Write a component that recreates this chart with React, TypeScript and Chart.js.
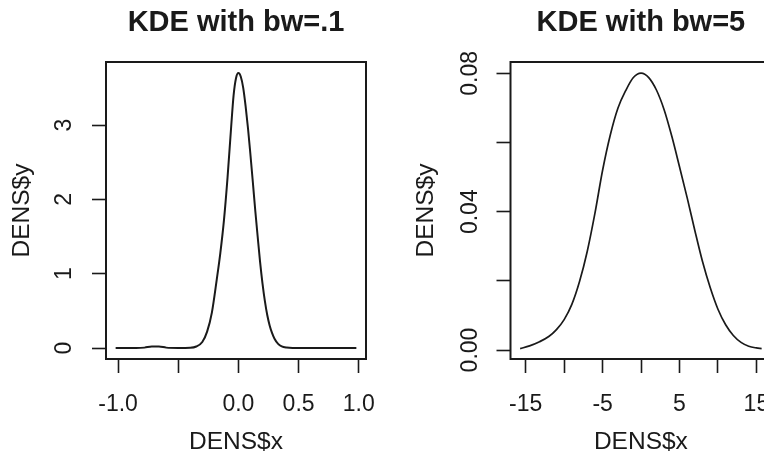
import React, { useEffect, useRef } from 'react';
import { Chart, registerables } from 'chart.js';

Chart.register(...registerables);

// ---- Data ----
const titles = ['KDE with bw=.1', 'KDE with bw=5'];
const xAxisTitle = 'DENS$x';
const yAxisTitle = 'DENS$y';

// Left panel: KDE with bw=.1
const leftX = [
  -1.02, -0.95, -0.85, -0.78, -0.72, -0.66, -0.6, -0.5, -0.4, -0.35, -0.3, -0.26, -0.22, -0.18,
  -0.15, -0.12, -0.09, -0.06, -0.04, -0.02, 0, 0.02, 0.04, 0.06, 0.08, 0.1, 0.12, 0.14, 0.16,
  0.18, 0.2, 0.22, 0.24, 0.26, 0.28, 0.3, 0.33, 0.36, 0.4, 0.45, 0.6, 0.8, 0.98,
];
const leftY = [
  0, 0, 0, 0.005, 0.02, 0.02, 0.005, 0, 0.003, 0.02, 0.08, 0.22, 0.48, 0.92,
  1.28, 1.72, 2.3, 2.98, 3.4, 3.63, 3.7, 3.65, 3.5, 3.25, 2.95, 2.6, 2.23, 1.85, 1.5,
  1.16, 0.87, 0.63, 0.44, 0.3, 0.2, 0.125, 0.055, 0.022, 0.006, 0, 0, 0, 0,
];
const leftXTicks = [-1, -0.5, 0, 0.5, 1];
const leftXLabels = ['-1.0', '', '0.0', '0.5', '1.0'];
const leftYTicks = [0, 1, 2, 3];
const leftYLabels = ['0', '1', '2', '3'];

// Right panel: KDE with bw=5
const rightX = [
  -15.72, -14.5, -13.2, -12, -11, -10, -9, -8, -7, -6, -5, -4, -3, -2, -1, 0, 1, 2, 3, 4, 5,
  6, 7, 8, 9, 10, 11, 12, 13, 14, 15, 15.68,
];
const rightY = [
  0.0004, 0.0012, 0.0024, 0.0039, 0.0059, 0.0088, 0.0132, 0.0198, 0.0285, 0.0395, 0.052, 0.0622,
  0.07, 0.075, 0.0788, 0.0801, 0.0788, 0.0752, 0.0695, 0.0618, 0.053, 0.044, 0.0345, 0.0255,
  0.018, 0.0118, 0.0073, 0.0042, 0.0022, 0.0011, 0.0006, 0.0004,
];
const rightXTicks = [-15, -10, -5, 0, 5, 10, 15];
const rightXLabels = ['-15', '', '-5', '', '5', '', '15'];
const rightYTicks = [0, 0.02, 0.04, 0.06, 0.08];
const rightYLabels = ['0.00', '', '0.04', '', '0.08'];

const FONT = '"Liberation Sans", Arial, Helvetica, sans-serif';
const INK = '#1a1a1a';
const TICK_SIZE = 23;
const AXIS_TITLE_SIZE = 24.5;

type Panel = {
  title: string;
  xs: number[];
  ys: number[];
  xMin: number;
  xMax: number;
  yMin: number;
  yMax: number;
  xTicks: number[];
  xLabels: string[];
  yTicks: number[];
  yLabels: string[];
  yAxisWidth: number;
  padRight: number;
  yTickPad: number;
  yTitlePad: number;
  lineWidth: number;
};

const frame = {
  id: 'rframe',
  afterDraw(chart: any, _args: any, opts: any) {
    const { ctx, chartArea: a } = chart;
    ctx.save();
    ctx.strokeStyle = INK;
    ctx.lineWidth = 2;
    ctx.strokeRect(a.left, a.top, a.right - a.left, a.bottom - a.top);
    ctx.font = `bold 29px ${FONT}`;
    ctx.fillStyle = INK;
    ctx.textAlign = 'center';
    ctx.textBaseline = 'alphabetic';
    ctx.fillText(opts.text, (a.left + a.right) / 2, 31);
    ctx.restore();
  },
};

function makeConfig(p: Panel): any {
  return {
    type: 'line',
    data: {
      datasets: [
        {
          data: p.xs.map((x, i) => ({ x, y: p.ys[i] })),
          borderColor: INK,
          borderWidth: p.lineWidth,
          pointRadius: 0,
          fill: false,
          cubicInterpolationMode: 'monotone',
        },
      ],
    },
    options: {
      responsive: false,
      animation: false,
      devicePixelRatio: 1,
      layout: { padding: { top: 62, left: 0, right: p.padRight, bottom: 0 } },
      plugins: {
        legend: { display: false },
        tooltip: { enabled: false },
        rframe: { text: p.title },
      },
      scales: {
        x: {
          type: 'linear',
          min: p.xMin,
          max: p.xMax,
          afterBuildTicks: (s: any) => {
            s.ticks = p.xTicks.map((v) => ({ value: v }));
          },
          afterFit: (s: any) => {
            s.height = 108;
            s.paddingLeft = 0;
            s.paddingRight = 0;
          },
          grid: {
            display: true,
            drawOnChartArea: false,
            drawTicks: true,
            tickLength: 14,
            tickColor: INK,
            tickWidth: 1.6,
          },
          border: { display: false },
          ticks: {
            autoSkip: false,
            maxRotation: 0,
            minRotation: 0,
            padding: 18.2,
            color: INK,
            font: { family: FONT, size: TICK_SIZE },
            callback: (v: number) => p.xLabels[p.xTicks.indexOf(v)] ?? '',
          },
          title: {
            display: true,
            text: xAxisTitle,
            color: INK,
            font: { family: FONT, size: AXIS_TITLE_SIZE },
            padding: { top: 0, bottom: 10.3 },
          },
        },
        y: {
          type: 'linear',
          min: p.yMin,
          max: p.yMax,
          afterBuildTicks: (s: any) => {
            s.ticks = p.yTicks.map((v) => ({ value: v }));
          },
          afterFit: (s: any) => {
            s.width = p.yAxisWidth;
            s.paddingTop = 0;
            s.paddingBottom = 0;
          },
          grid: {
            display: true,
            drawOnChartArea: false,
            drawTicks: true,
            tickLength: 14,
            tickColor: INK,
            tickWidth: 1.6,
          },
          border: { display: false },
          ticks: {
            autoSkip: false,
            minRotation: 90,
            maxRotation: 90,
            crossAlign: 'center',
            padding: p.yTickPad,
            color: INK,
            font: { family: FONT, size: TICK_SIZE },
            callback: (v: number) => p.yLabels[p.yTicks.indexOf(v)] ?? '',
          },
          title: {
            display: true,
            text: yAxisTitle,
            color: INK,
            font: { family: FONT, size: AXIS_TITLE_SIZE },
            padding: { top: p.yTitlePad, bottom: 0 },
          },
        },
      },
    },
    plugins: [frame],
  };
}

const leftPanel: Panel = {
  title: titles[0],
  xs: leftX,
  ys: leftY,
  xMin: -1.1,
  xMax: 1.06,
  yMin: -0.148,
  yMax: 3.848,
  xTicks: leftXTicks,
  xLabels: leftXLabels,
  yTicks: leftYTicks,
  yLabels: leftYLabels,
  yAxisWidth: 106,
  padRight: 16,
  yTickPad: 20.6,
  yTitlePad: 7.8,
  lineWidth: 2,
};

const rightPanel: Panel = {
  title: titles[1],
  xs: rightX,
  ys: rightY,
  xMin: -16.976,
  xMax: 16.936,
  yMin: -0.0026,
  yMax: 0.0833,
  xTicks: rightXTicks,
  xLabels: rightXLabels,
  yTicks: rightYTicks,
  yLabels: rightYLabels,
  yAxisWidth: 128.5,
  padRight: 10.7,
  yTickPad: 3.1,
  yTitlePad: 29.3,
  lineWidth: 1.7,
};

function ChartCanvas({ panel, left, width }: { panel: Panel; left: number; width: number }) {
  const ref = useRef<HTMLCanvasElement | null>(null);
  useEffect(() => {
    if (!ref.current) return;
    const chart = new Chart(ref.current, makeConfig(panel));
    return () => chart.destroy();
  }, [panel]);
  return (
    <canvas
      ref={ref}
      width={width}
      height={467}
      style={{ position: 'absolute', left, top: 0, width, height: 467 }}
    />
  );
}

export default function App() {
  return (
    <div
      style={{
        position: 'fixed',
        left: 0,
        top: 0,
        width: 764,
        height: 467,
        overflow: 'hidden',
        background: '#fff',
      }}
    >
      <ChartCanvas panel={leftPanel} left={0} width={382} />
      <ChartCanvas panel={rightPanel} left={382} width={400} />
    </div>
  );
}
